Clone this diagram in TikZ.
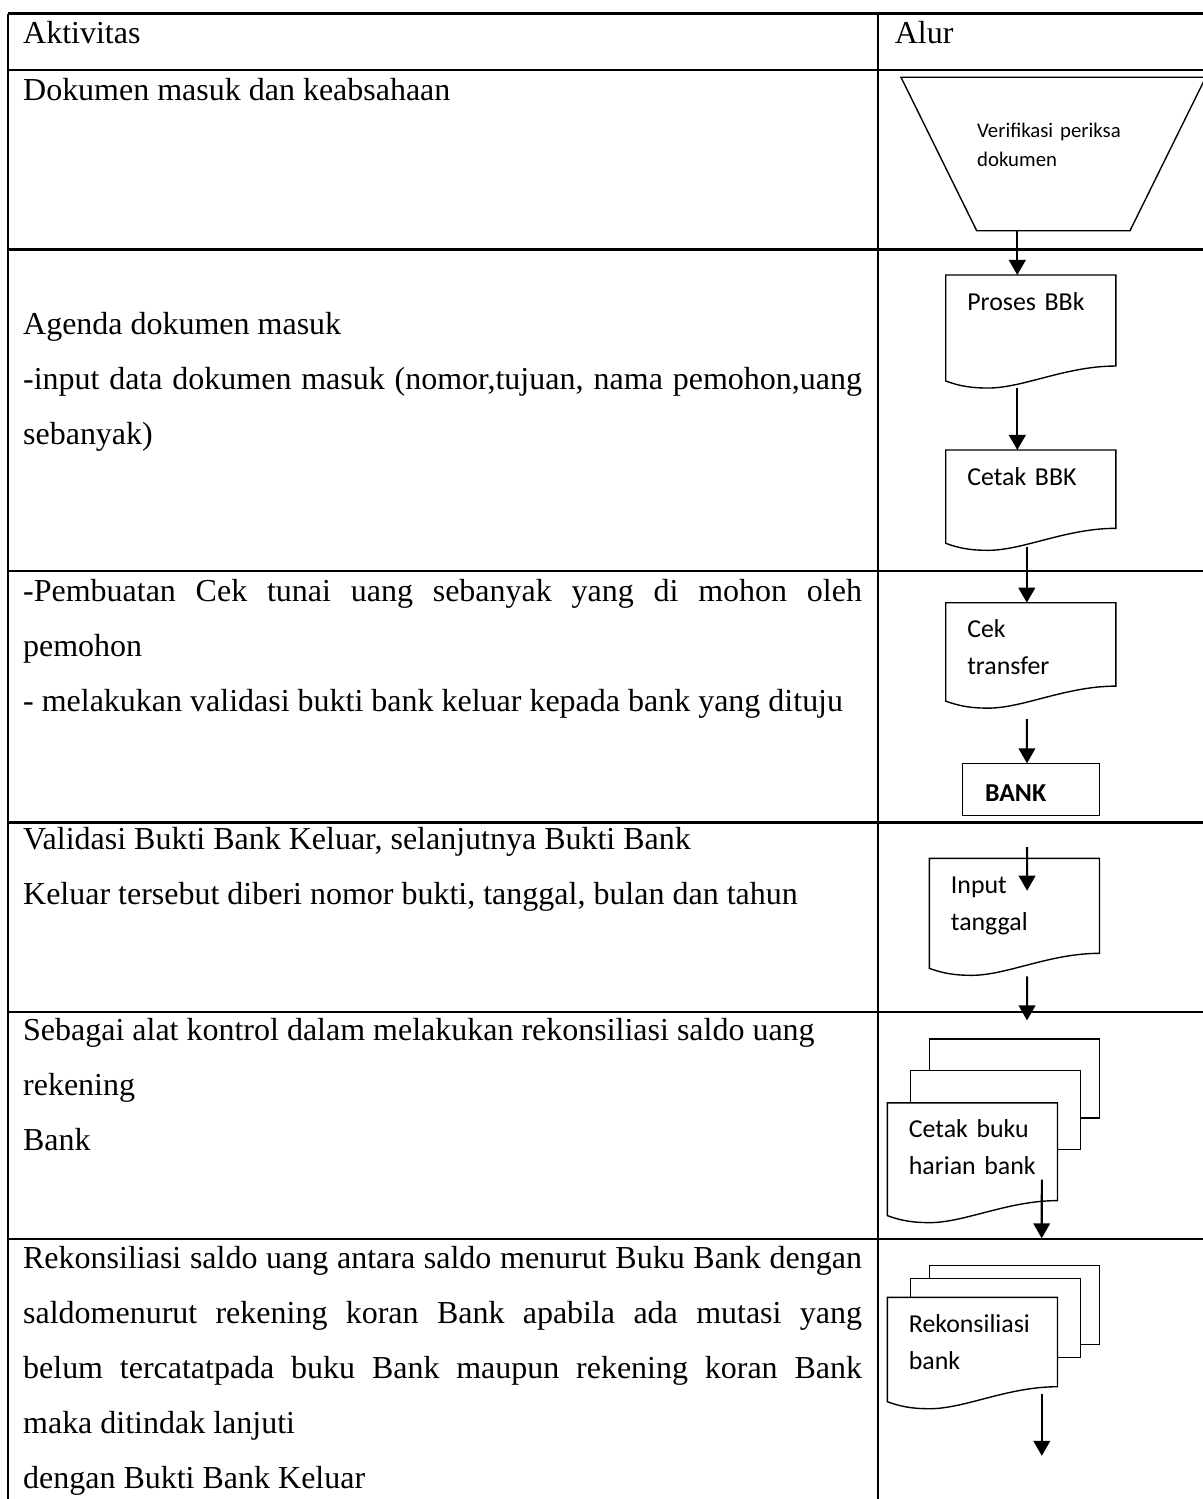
\documentclass[tikz,border=0pt]{standalone}
\usepackage{fontspec}
\setmainfont{Liberation Serif}
\newfontfamily\calibri{Carlito}
\usetikzlibrary{arrows.meta,calc}
\newcommand{\sat}{0.433pt}
\newcommand{\rata}[1]{\makebox[363.2pt][s]{#1}}
\newcommand{\gelombang}[1]{%
  \draw[bentuk] (#1.north west) -- (#1.north east) -- (#1.south east)
    .. controls +(-50,0) and +(35,0) .. ($(#1.south west)!0.25!(#1.south east)+(0,22)$)
    .. controls +(-18,0) and +(14,5) .. ($(#1.south west)+(0,15)$) -- cycle;}
\begin{document}
\begin{tikzpicture}[x=\sat, y=-\sat,
    garis/.style={line width=0.9pt},
    bentuk/.style={draw, line width=0.6pt},
    teks/.style={anchor=base west, inner sep=0pt, font=\fontsize{13.85}{16}\selectfont},
    dok/.style={anchor=north west, inner xsep=9.35pt, inner ysep=0pt, outer sep=0pt, text width=55pt, text height=15.16pt, align=left, font=\calibri\fontsize{11.2}{15.9}\selectfont},
    lembar/.style={bentuk, fill=white, anchor=north west, minimum width=73.6pt, minimum height=34.2pt, inner sep=0pt, outer sep=0pt},
    kotak/.style={bentuk, anchor=north west, inner xsep=9.66pt, inner ysep=0pt, outer sep=0pt, text width=39.84pt, text height=16.63pt, text depth=6.02pt, align=left, font=\calibri\fontsize{11.2}{15.9}\selectfont},
    panah/.style={line width=0.9pt, -{Triangle[width=7.2pt,length=6.5pt]}}]
   \useasboundingbox (0,0) rectangle (1203,1499);
   % tabel
   \draw[garis] (8.3,13.5) -- (1203,13.5);
   \draw[garis] (8.3,70) -- (1203,70);
   \draw[garis] (8.3,249.5) -- (1203,249.5);
   \draw[garis] (8.3,571) -- (1203,571);
   \draw[garis] (8.3,822.5) -- (1203,822.5);
   \draw[garis] (8.3,1012) -- (1203,1012);
   \draw[garis] (8.3,1239) -- (1203,1239);
   \draw[garis] (8.3,13.5) -- (8.3,1499);
   \draw[garis] (877.7,13.5) -- (877.7,1499);
   % kolom aktivitas
   \node[teks] (aktivitas) at (22.7,43.3) {Aktivitas};
   \node[teks] (alur) at (894.3,43.3) {Alur};
   \node[teks] (masuk) at (22.7,100) {Dokumen masuk dan keabsahaan};
   \node[teks] (agendaA) at (22.7,334) {Agenda dokumen masuk};
   \node[teks] (agendaB) at (22.7,389) {\rata{-input data dokumen masuk (nomor,tujuan, nama pemohon,uang}};
   \node[teks] (agendaC) at (22.7,444) {sebanyak)};
   \node[teks] (cekA) at (22.7,601.7) {\rata{-Pembuatan Cek tunai uang sebanyak yang di mohon oleh}};
   \node[teks] (cekB) at (22.7,656.7) {pemohon};
   \node[teks] (cekC) at (22.7,711.7) {- melakukan validasi bukti bank keluar kepada bank yang dituju};
   \node[teks] (validasiA) at (22.7,849) {Validasi Bukti Bank Keluar, selanjutnya Bukti Bank};
   \node[teks] (validasiB) at (22.7,904) {Keluar tersebut diberi nomor bukti, tanggal, bulan dan tahun};
   \node[teks] (kontrolA) at (22.7,1040) {Sebagai alat kontrol dalam melakukan rekonsiliasi saldo uang};
   \node[teks] (kontrolB) at (22.7,1095) {rekening};
   \node[teks] (kontrolC) at (22.7,1150) {Bank};
   \node[teks] (rekonA) at (22.7,1268) {\rata{Rekonsiliasi saldo uang antara saldo menurut Buku Bank dengan}};
   \node[teks] (rekonB) at (22.7,1323) {\rata{saldomenurut rekening koran Bank apabila ada mutasi yang}};
   \node[teks] (rekonC) at (22.7,1378) {\rata{belum tercatatpada buku Bank maupun rekening koran Bank}};
   \node[teks] (rekonD) at (22.7,1433) {maka ditindak lanjuti};
   \node[teks] (rekonE) at (22.7,1488) {dengan Bukti Bank Keluar};
   % kolom alur
   \coordinate (trapA) at (901,77.3);
   \coordinate (trapB) at (1205.7,77.3);
   \coordinate (trapC) at (1130,230.7);
   \coordinate (trapD) at (976.7,230.7);
   \coordinate (trapbawah) at (1017.3,230.7);
   \draw[bentuk] (trapA) -- (trapB) -- (trapC) -- (trapD) -- cycle;
   \node[anchor=base west, inner sep=0pt, text width=64.95pt, align=left, font=\calibri\fontsize{9}{12.86}\selectfont] (verif) at (976.7,137) {Verifikasi periksa\\dokumen};
   \node[dok, text depth=24.25pt] (proses) at (945.7,275) {Proses BBk};
   \gelombang{proses}
   \node[dok, text depth=18.75pt] (cetak) at (945.7,450) {Cetak BBK};
   \gelombang{cetak}
   \node[dok, text depth=20.96pt] (cek) at (945.7,602.7) {Cek\\transfer};
   \gelombang{cek}
   \node[kotak] (bank) at (962.7,763.3) {\textbf{BANK}};
   \node[dok, text depth=25.98pt] (input) at (929.3,858.3) {Input\\tanggal};
   \gelombang{input}
   \node[lembar] (bukuC) at (929.3,1038.9) {};
   \node[lembar] (bukuB) at (910.7,1070.7) {};
   \node[dok, fill=white, text depth=27.19pt] (cetakbuku) at (887.3,1102.8) {Cetak buku\\\mbox{harian bank}};
   \gelombang{cetakbuku}
   \node[lembar] (rekonsC) at (929.3,1265.3) {};
   \node[lembar] (rekonsB) at (910.7,1278.2) {};
   \node[dok, fill=white, text depth=23.51pt] (rekons) at (887.3,1297.4) {Rekonsiliasi\\bank};
   \gelombang{rekons}
   % panah
   \draw[panah] (trapbawah) -- (trapbawah |- proses.north);
   \draw[panah] ([shift={(-13.5,22)}]proses.south) -- ([shift={(-13.5,0)}]cetak.north);
   \draw[panah] ([shift={(-4,19)}]cetak.south) -- ([shift={(-4,0)}]cek.north);
   \draw[panah] ([shift={(-4,33)}]cek.south) -- ([shift={(-4,0)}]bank.north);
   \draw[panah] ([shift={(-4,31.6)}]bank.south) -- ([shift={(12.7,32.4)}]input.north);
   \draw[panah] ([shift={(12.7,23)}]input.south) -- ([shift={(12.7,-18.5)}]bukuC.north);
   \draw[panah] ([shift={(69.4,-21.1)}]cetakbuku.south) -- ([shift={(27.4,-27)}]rekonsC.north);
   \draw[panah] ([shift={(69.4,7.4)}]rekons.south) -- ([shift={(69.4,69.1)}]rekons.south);
\end{tikzpicture}
\end{document}
